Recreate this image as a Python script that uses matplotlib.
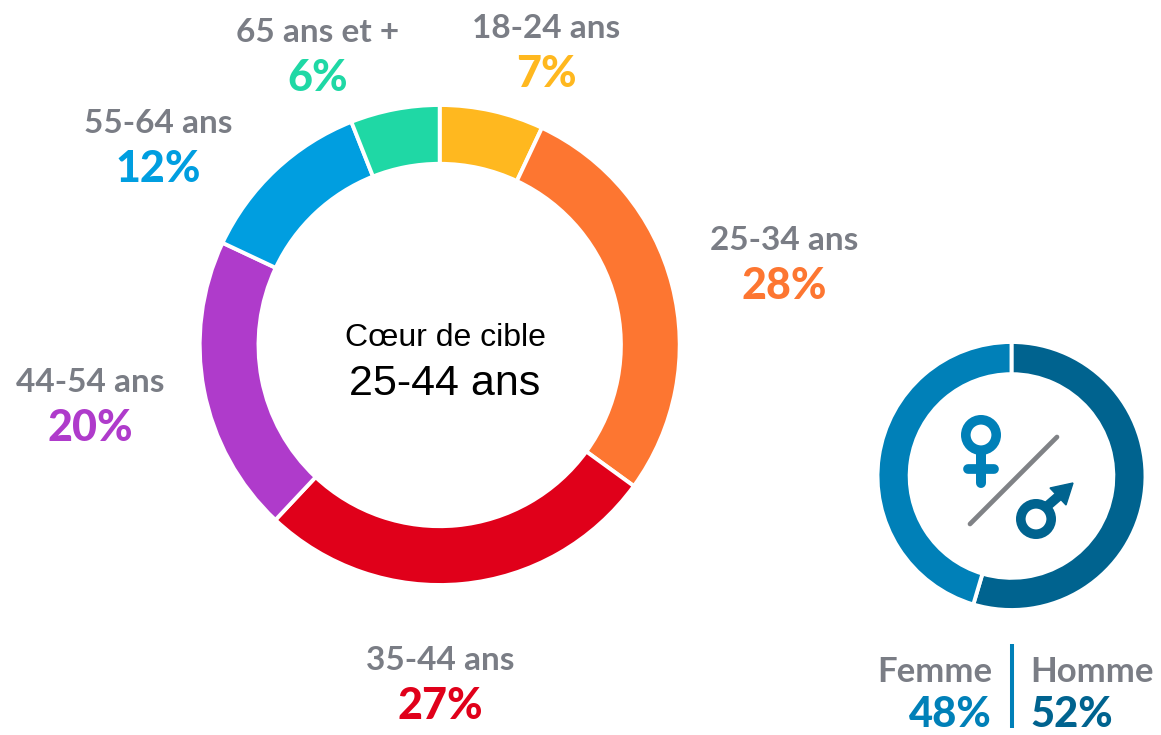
import matplotlib
matplotlib.use("Agg")
import matplotlib.pyplot as plt

ages = ["18-24 ans", "25-34 ans", "35-44 ans", "44-54 ans", "55-64 ans", "65 ans et +"]
age_values = [7, 28, 27, 20, 12, 6]
age_colors = ["#FFB81F", "#FD7631", "#E0001A", "#AF3BCB", "#009EE0", "#1FD8A5"]
genders = ["Homme", "Femme"]
gender_labels = [52, 48]
# the ring in the picture is not drawn to its labels: these are the shares as drawn
gender_arc_shares = [54.6, 45.4]
gender_colors = ["#00638F", "#0080B8"]
W, H = 1161, 735
GREY = "#7A7D85"

plt.rcParams["font.family"] = ["Lato", "DejaVu Sans"]
fig = plt.figure(figsize=(W/100, H/100), dpi=100, facecolor="white")
bg = fig.add_axes([0, 0, 1, 1]); bg.set_xlim(0, W); bg.set_ylim(H, 0); bg.axis("off")

def donut_axes(cx, cy, r):
    a = fig.add_axes([(cx-r)/W, 1-(cy+r)/H, 2*r/W, 2*r/H])
    a.patch.set_alpha(0)
    return a

ax = donut_axes(439.7, 345, 240)
ax.pie(age_values, colors=age_colors, startangle=90, counterclock=False, radius=1,
       wedgeprops=dict(width=0.245, edgecolor="white", linewidth=2.8))
ax.set_xlim(-1, 1); ax.set_ylim(-1, 1)

ax2 = donut_axes(1011.5, 476, 134)
ax2.pie(gender_arc_shares, colors=gender_colors, startangle=90, counterclock=False, radius=1,
        wedgeprops=dict(width=0.24, edgecolor="white", linewidth=2.8))
ax2.set_xlim(-1, 1); ax2.set_ylim(-1, 1)

positions = [(546, 28, 74), (784, 240, 286), (440, 660, 706), (90, 382, 428), (158, 123, 169), (318, 32, 78)]
for name, val, col, (x, y1, y2) in zip(ages, age_values, age_colors, positions):
    bg.text(x, y1, name, color=GREY, fontsize=24, fontweight="bold", ha="center", va="center")
    bg.text(x, y2, f"{val}%", color=col, fontsize=31, fontweight="black", ha="center", va="center")

bg.text(445, 338, "Cœur de cible", fontsize=23, family="Liberation Sans", ha="center", va="center", color="black")
bg.text(445, 384, "25-44 ans", fontsize=31, family="Liberation Sans", ha="center", va="center", color="black")

bg.text(992, 672, genders[1], color=GREY, fontsize=25, fontweight="bold", ha="right", va="center")
bg.text(1030, 672, genders[0], color=GREY, fontsize=25, fontweight="bold", ha="left", va="center")
bg.text(992, 715, f"{gender_labels[1]}%", color=gender_colors[1], fontsize=30, fontweight="black", ha="right", va="center")
bg.text(1030, 715, f"{gender_labels[0]}%", color=gender_colors[0], fontsize=30, fontweight="black", ha="left", va="center")
bg.plot([1012, 1012], [644, 728], color=gender_colors[1], lw=2.9, solid_capstyle="butt")

# gender icons
bg.plot([970, 1057], [524, 437], color="#808286", lw=3.4, solid_capstyle="round")
bg.add_patch(plt.Circle((981, 435), 15.2, fill=False, ec=gender_colors[1], lw=6.9))
bg.plot([981, 981], [452, 483], color=gender_colors[1], lw=7.2, solid_capstyle="round")
bg.plot([968, 994], [469, 469], color=gender_colors[1], lw=7, solid_capstyle="round")
bg.add_patch(plt.Circle((1036, 519), 15.2, fill=False, ec=gender_colors[0], lw=6.9))
bg.plot([1045, 1060], [508, 495], color=gender_colors[0], lw=7, solid_capstyle="butt")
bg.add_patch(plt.Polygon([[1073, 483], [1066, 505], [1050, 488]], color=gender_colors[0]))

fig.savefig("out.png", dpi=100)
